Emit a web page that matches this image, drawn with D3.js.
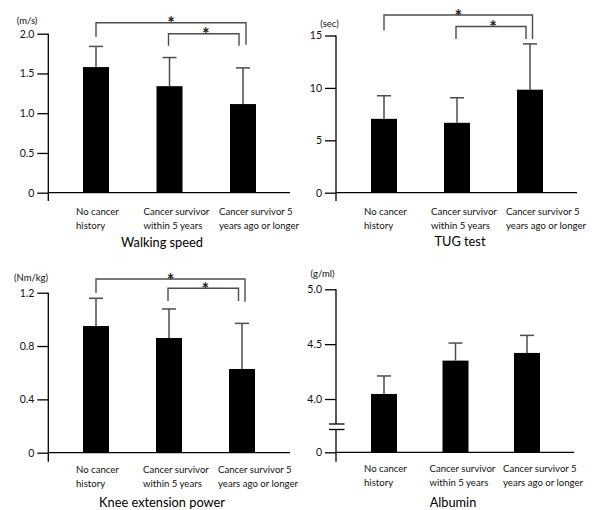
<!DOCTYPE html>
<html><head><meta charset="utf-8">
<script src="https://cdn.jsdelivr.net/npm/d3@7"></script>
<style>body{margin:0;background:#fff}svg{display:block}text{font-family:Lato,"Open Sans",sans-serif}</style>
</head><body>
<svg id="c" width="595" height="510"></svg>
<script>
// ---------- data ----------
const categories = [
  ["No cancer", "history"],
  ["Cancer survivor", "within 5 years"],
  ["Cancer survivor 5", "years ago or longer"]
];
const walkingMean = [1.58, 1.34, 1.115];
const walkingSD   = [0.26, 0.36, 0.455];
const walkingTicks = [0, 0.5, 1.0, 1.5, 2.0];
const walkingTickLabels = ["0", "0.5", "1.0", "1.5", "2.0"];

const tugMean = [7.05, 6.67, 9.83];
const tugSD   = [2.20, 2.39, 4.37];
const tugTicks = [0, 5, 10, 15];
const tugTickLabels = ["0", "5", "10", "15"];

const kneeMean = [0.95, 0.86, 0.628];
const kneeSD   = [0.208, 0.218, 0.342];
const kneeTicks = [0, 0.4, 0.8, 1.2];
const kneeTickLabels = ["0", "0.4", "0.8", "1.2"];

const albMean = [4.046, 4.35, 4.42];
const albSD   = [0.164, 0.16, 0.16];
const albTicks = [0, 4.0, 4.5, 5.0];
const albTickLabels = ["0", "4.0", "4.5", "5.0"];

const sigPairs = [[0, 2], [1, 2]];

// ---------- layout config ----------
const svg = d3.select("#c");
const panels = [
  {title:"Walking speed", unit:"(m/s)", mean:walkingMean, sd:walkingSD, ticks:walkingTicks, labels:walkingTickLabels,
   domain:[0,2], range:[192.7,33.7], ax:48.3, xEnd:290, axBottom:201, cx:[96,243],
   unitX:27, unitY:24, titleX:162, titleY:247, catY:215, sig:true,
   br:[{top:-11, l:3, r:11, ro:3}, {top:0, l:12, r:12, ro:-4}]},
  {title:"TUG test", unit:"(sec)", mean:tugMean, sd:tugSD, ticks:tugTicks, labels:tugTickLabels,
   domain:[0,15], range:[192.7,35.5], ax:336, xEnd:577, axBottom:201, cx:[384,530],
   unitX:329.5, unitY:27, titleX:460, titleY:246, catY:215, sig:true,
   br:[{top:-20.5, l:-5, r:3.5, ro:2.5}, {top:-9, l:3.5, r:3.5, ro:-4}]},
  {title:"Knee extension power", unit:"(Nm/kg)", mean:kneeMean, sd:kneeSD, ticks:kneeTicks, labels:kneeTickLabels,
   domain:[0,1.2], range:[452.7,292.7], ax:48.3, xEnd:290, axBottom:461.7, cx:[96,242],
   unitX:31, unitY:280.7, titleX:162, titleY:507, catY:473, sig:true,
   br:[{top:-13.7, l:0, r:9, ro:3}, {top:-4.4, l:8.3, r:8.3, ro:-3.5}]},
  {title:"Albumin", unit:"(g/ml)", mean:albMean, sd:albSD, ticks:albTicks, labels:albTickLabels,
   domain:[0,4,5], range:[452.3,399,289.3], ax:336, xEnd:574, axBottom:461.7, cx:[384,527],
   unitX:322.5, unitY:276.7, titleX:453, titleY:507, catY:472, sig:false, brk:[424,429.5]}
];
const labelOffsets = [-20, -26, -24];
const barW = 26, capW = 14, tickLen = 11;
const errColor = "#4d4d4d";

panels.forEach(p => {
  const g = svg.append("g");
  const y = d3.scaleLinear().domain(p.domain).range(p.range);
  const x = d3.scalePoint().domain(d3.range(categories.length)).range(p.cx);
  const y0 = y(0), yTop = y(p.domain[p.domain.length-1]);

  // bars
  g.selectAll("rect.bar").data(p.mean).join("rect")
    .attr("x", (d,i) => x(i) - barW/2).attr("width", barW)
    .attr("y", d => y(d)).attr("height", d => y0 - y(d))
    .attr("fill", "#000");

  // error bars
  p.mean.forEach((m,i) => {
    const top = y(m + p.sd[i]);
    g.append("line").attr("x1", x(i)).attr("x2", x(i)).attr("y1", y(m)).attr("y2", top)
      .attr("stroke", errColor).attr("stroke-width", 1.5);
    g.append("line").attr("x1", x(i)-capW/2).attr("x2", x(i)+capW/2).attr("y1", top).attr("y2", top)
      .attr("stroke", errColor).attr("stroke-width", 1.5);
  });

  // y axis
  const ya = d3.axisLeft(y).tickValues(p.ticks).tickFormat((d,i) => p.labels[i]).tickSize(tickLen).tickPadding(3);
  const yg = g.append("g").attr("transform", `translate(${p.ax},0)`).call(ya);
  yg.select(".domain").remove();
  yg.selectAll(".tick line").attr("stroke", "#000").attr("stroke-width", 1.3);
  yg.selectAll(".tick text").attr("font-size", 10.5).attr("fill", "#111").attr("font-family", "Lato, sans-serif");

  // axis lines
  if (p.brk) {
    g.append("line").attr("x1", p.ax).attr("x2", p.ax).attr("y1", yTop).attr("y2", p.brk[0])
      .attr("stroke", "#000").attr("stroke-width", 1.3);
    g.append("line").attr("x1", p.ax).attr("x2", p.ax).attr("y1", p.brk[1]).attr("y2", p.axBottom)
      .attr("stroke", "#000").attr("stroke-width", 1.3);
    p.brk.forEach(b => g.append("line").attr("x1", p.ax-7).attr("x2", p.ax+8.5).attr("y1", b).attr("y2", b)
      .attr("stroke", "#000").attr("stroke-width", 1.3));
  } else {
    g.append("line").attr("x1", p.ax).attr("x2", p.ax).attr("y1", yTop).attr("y2", p.axBottom)
      .attr("stroke", "#000").attr("stroke-width", 1.3);
  }
  g.append("line").attr("x1", p.ax).attr("x2", p.xEnd).attr("y1", y0).attr("y2", y0)
    .attr("stroke", "#000").attr("stroke-width", 1.3);

  // unit
  g.append("text").attr("x", p.unitX).attr("y", p.unitY).attr("text-anchor", "middle")
    .attr("font-size", 9.5).attr("fill", "#111").text(p.unit);

  // category labels
  categories.forEach((lines, i) => {
    const t = g.append("text").attr("font-size", 9.6).attr("fill", "#111");
    lines.forEach((ln, k) => t.append("tspan").attr("x", x(i) + labelOffsets[i]).attr("y", p.catY + k*13.5).text(ln));
  });

  // title
  g.append("text").attr("x", p.titleX).attr("y", p.titleY).attr("text-anchor", "middle")
    .attr("font-size", 12.8).attr("fill", "#000").text(p.title);

  // significance brackets
  if (p.sig) {
    sigPairs.forEach((pr, k) => {
      const b = p.br[k];
      const xl = x(pr[0]) + (k === 1 ? -1 : 0), xr = x(pr[1]) + b.ro;
      const yt = yTop + b.top;
      g.append("path").attr("d", `M${xl},${yTop + b.l}V${yt}H${xr}V${yTop + b.r}`)
        .attr("fill", "none").attr("stroke", errColor).attr("stroke-width", 1.4);
      g.append("text").attr("x", (xl+xr)/2 + (k===1?2:0)).attr("y", yt + 7.5).attr("text-anchor", "middle")
        .attr("font-size", 18).attr("font-weight", "bold").attr("fill", "#222").text("*");
    });
  }
});
</script>
</body></html>
